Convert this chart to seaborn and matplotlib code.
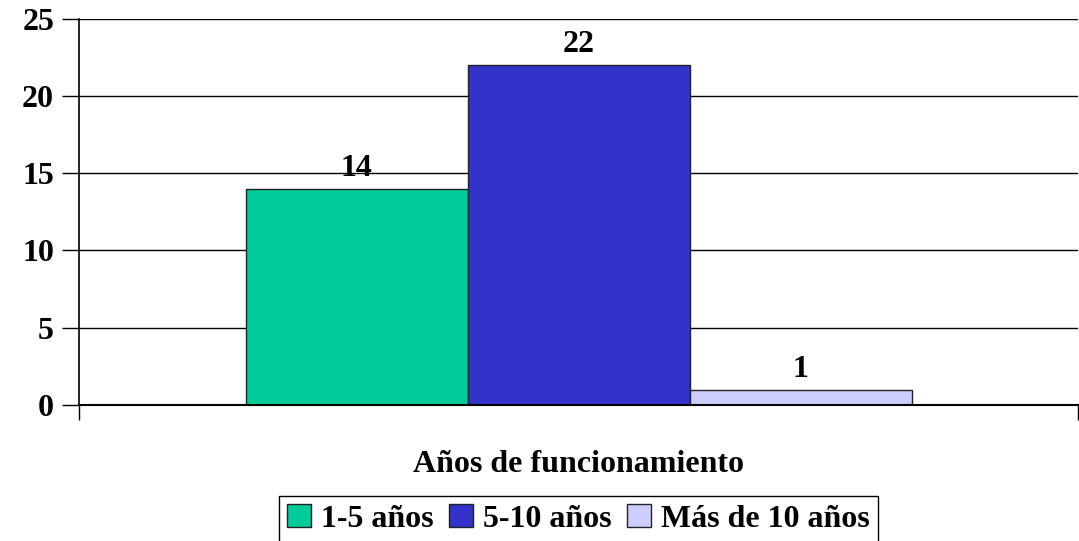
import matplotlib
matplotlib.use('Agg')
import matplotlib.pyplot as plt
import pandas as pd
import seaborn as sns

# Data
categoria = ['Años de funcionamiento']
series = ['1-5 años', '5-10 años', 'Más de 10 años']
valores = [14, 22, 1]
colores = ['#00CC99', '#3333CC', '#CCCCFF']

df = pd.DataFrame({'cat': categoria * len(series), 'serie': series, 'valor': valores})

sns.set_style('white')
plt.rcParams['font.family'] = ['Liberation Serif', 'DejaVu Serif']
plt.rcParams['font.weight'] = 'bold'
plt.rcParams['text.color'] = 'black'
plt.rcParams['ytick.color'] = 'black'
plt.rcParams['xtick.color'] = 'black'

fig = plt.figure(figsize=(10.79, 5.41), dpi=100)
ax = fig.add_axes([79 / 1079, 1 - 405 / 541, 999 / 1079, (405 - 18.5) / 541])

sns.barplot(df, x='cat', y='valor', hue='serie', palette=colores, width=2 / 3,
            saturation=1, edgecolor='#222222', linewidth=1, ax=ax, legend=True)

for cont in ax.containers:
    ax.bar_label(cont, fontsize=23, fontweight='bold', color='black', padding=4)

ax.set_ylim(0, 25)
ax.set_yticks([0, 5, 10, 15, 20, 25])
ax.set_xlim(-0.5, 0.5)
ax.set_xticks([-0.5, 0.5])
ax.set_xticklabels(['', ''])
ax.tick_params(axis='y', direction='out', length=12, width=1, labelsize=23,
               labelcolor='black', left=True, pad=6)
ax.tick_params(axis='x', direction='out', length=11, width=1, bottom=True)
for lab in ax.get_yticklabels():
    lab.set_fontweight('bold')

ax.yaxis.grid(True, color='black', linewidth=1)
ax.set_axisbelow(True)
for s in ['top', 'right']:
    ax.spines[s].set_visible(False)
ax.spines['left'].set_color('black')
ax.spines['left'].set_linewidth(1.2)
ax.spines['bottom'].set_color('black')
ax.spines['bottom'].set_linewidth(1.5)

ax.set_ylabel('')
ax.set_xlabel('Años de funcionamiento', fontsize=23, fontweight='bold',
              color='black', labelpad=18)

leg = ax.legend(loc='upper center', bbox_to_anchor=(0.5, -0.2354), bbox_transform=ax.transAxes,
                ncol=3, frameon=True, fancybox=False, edgecolor='black', framealpha=1,
                prop={'size': 23, 'weight': 'bold'}, handlelength=0.75, handleheight=0.75,
                handletextpad=0.3, columnspacing=0.5, borderpad=0.25, borderaxespad=0)
for t in leg.get_texts():
    t.set_color('black')

fig.savefig('out.png', dpi=100)
